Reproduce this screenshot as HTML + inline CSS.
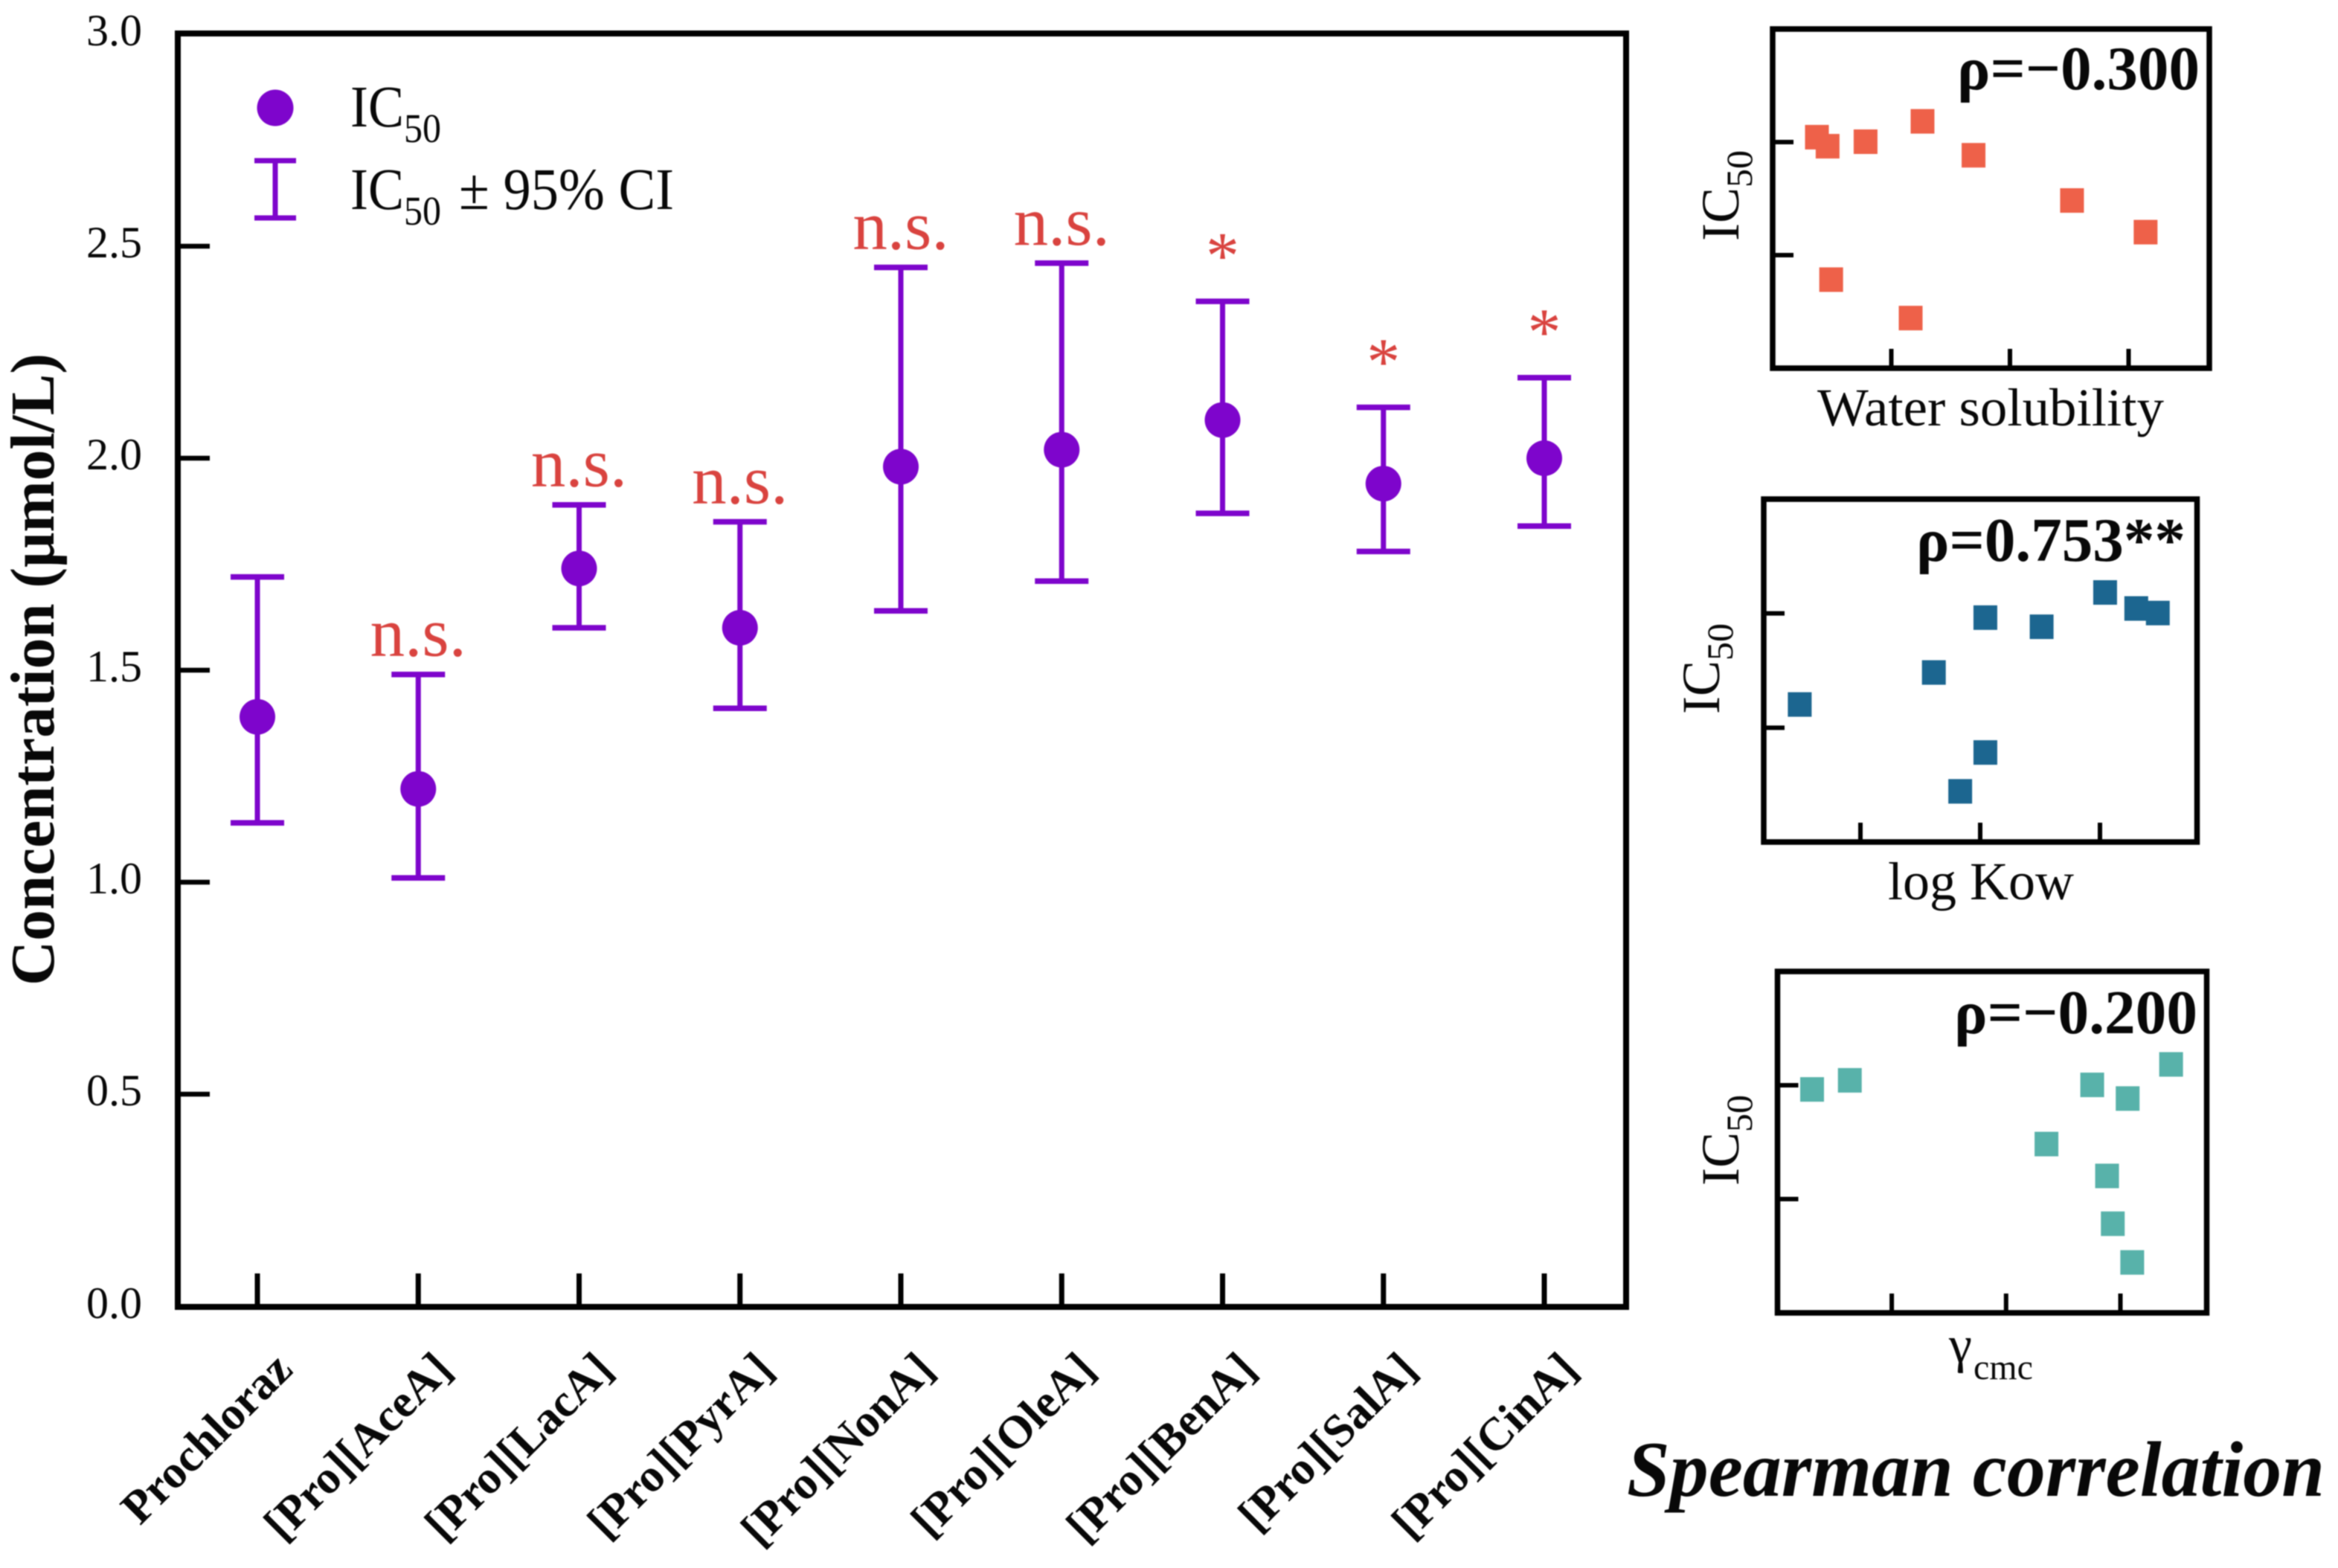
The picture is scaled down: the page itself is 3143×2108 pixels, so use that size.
<!DOCTYPE html>
<html lang="en">
<head>
<meta charset="utf-8">
<title>IC50 with 95% CI and Spearman correlations</title>
<style>
  html, body { margin: 0; padding: 0; background: #fff; }
  svg { display: block; filter: blur(0.9px); }
  text { font-family: "Liberation Serif", "Noto Serif CJK SC", serif; fill: #080808; }
</style>
</head>
<body>
<svg id="figure" xmlns="http://www.w3.org/2000/svg" width="3143" height="2108" viewBox="0 0 3143 2108">
  <rect x="0" y="0" width="3143" height="2108" fill="#fff"/>

  <text transform="translate(72,1325) rotate(-90)" font-size="84" font-weight="bold" textLength="850" lengthAdjust="spacingAndGlyphs">Concentration (μmol/L)</text>

  <g id="main-chart"></g>

  <g>
    <circle cx="370" cy="145" r="24.5" fill="#7e05cc"/>
    <text transform="translate(471,170) scale(1,1.1)" font-size="72">IC<tspan font-size="50" dy="19">50</tspan></text>
    <g stroke="#7e05cc" stroke-width="7" fill="none">
      <line x1="370" y1="216" x2="370" y2="293"/>
      <line x1="342" y1="216" x2="398" y2="216"/>
      <line x1="342" y1="293" x2="398" y2="293"/>
    </g>
    <text transform="translate(471,281) scale(1,1.1)" font-size="72">IC<tspan font-size="50" dy="19">50</tspan></text>
    <text transform="translate(617,281) scale(1,1.1)" font-size="72" textLength="289" lengthAdjust="spacingAndGlyphs">± 95% CI</text>
  </g>

  <g id="panel-water"></g>
  <g id="panel-kow"></g>
  <g id="panel-cmc"></g>

  <text x="2187" y="2011" font-size="106" font-weight="bold" font-style="italic" textLength="938" lengthAdjust="spacingAndGlyphs">Spearman correlation</text>
</svg>

<script>
// Main chart data
const categories = ["Prochloraz", "[Pro][AceA]", "[Pro][LacA]", "[Pro][PyrA]", "[Pro][NonA]", "[Pro][OleA]", "[Pro][BenA]", "[Pro][SalA]", "[Pro][CinA]"];
const ic50 = [1.39, 1.22, 1.74, 1.60, 1.98, 2.02, 2.09, 1.94, 2.00];
const ciUpper = [1.72, 1.49, 1.89, 1.85, 2.45, 2.46, 2.37, 2.12, 2.19];
const ciLower = [1.14, 1.01, 1.60, 1.41, 1.64, 1.71, 1.87, 1.78, 1.84];
const significance = ["", "n.s.", "n.s.", "n.s.", "n.s.", "n.s.", "*", "*", "*"];
const yTickValues = [0, 0.5, 1, 1.5, 2, 2.5, 3];
const yTickLabels = ["0.0", "0.5", "1.0", "1.5", "2.0", "2.5", "3.0"];

// Spearman panels: x in each panel's own tick units, y is IC50
const waterX = [0.37, 0.46, 0.78, 1.26, 1.69, 2.52, 3.14, 0.49, 1.16];
const waterY = [2.02, 1.98, 2.00, 2.09, 1.94, 1.74, 1.60, 1.39, 1.22];
const kowX = [0.49, 1.61, 2.04, 2.51, 3.04, 3.30, 3.48, 2.04, 1.83];
const kowY = [1.60, 1.74, 1.98, 1.94, 2.09, 2.02, 2.00, 1.39, 1.22];
const cmcX = [0.30, 0.63, 2.75, 3.06, 3.44, 2.35, 2.88, 2.93, 3.10];
const cmcY = [1.98, 2.02, 2.00, 1.94, 2.09, 1.74, 1.60, 1.39, 1.22];
const panelXTicks = [1, 2, 3];
const panelYTicks = [1.5, 2.0];

const SVGNS = "http://www.w3.org/2000/svg";
const PURPLE = "#7e05cc";
const RED = "#d9433f";

function make(parent, tag, name, attrs, content) {
  const el = document.createElementNS(SVGNS, tag);
  
  
  for (const k in attrs) el.setAttribute(k, attrs[k]);
  if (content !== undefined) el.textContent = content;
  parent.appendChild(el);
  return el;
}

// Main chart axes
const mainX = i => 346 + 216.25 * i;
const mainY = v => 1756 - 570 * v;

function drawMain() {
  const g = document.getElementById("main-chart");
  make(g, "rect", "plot-frame", { x: 239, y: 45, width: 1947, height: 1712, fill: "none", stroke: "#000", "stroke-width": 8 });

  yTickValues.forEach((v, i) => {
    if (v > 0 && v < 3) {
      make(g, "line", "y-tick-" + yTickLabels[i], { x1: 239, x2: 282, y1: mainY(v), y2: mainY(v), stroke: "#000", "stroke-width": 6.5 });
    }
    const labelY = v === 0 ? 1772 : mainY(v) + 15;
    make(g, "text", "y-tick-label-" + yTickLabels[i], { x: 191, y: labelY, "text-anchor": "end", "font-size": 60 }, yTickLabels[i]);
  });

  categories.forEach((name, i) => {
    const x = mainX(i);
    make(g, "line", "x-tick-" + i, { x1: x, x2: x, y1: 1712, y2: 1757, stroke: "#000", "stroke-width": 7 });
    make(g, "text", "x-tick-label-" + i, { transform: "translate(" + (x + (i === 0 ? 50 : 48)) + ",1844) rotate(-45)", "text-anchor": "end", "font-size": 62.5, "font-weight": "bold" }, name);

    const top = mainY(ciUpper[i]);
    const bottom = mainY(ciLower[i]);
    make(g, "line", "error-bar-" + i, { x1: x, x2: x, y1: top, y2: bottom, stroke: PURPLE, "stroke-width": 7 });
    make(g, "line", "error-cap-upper-" + i, { x1: x - 36, x2: x + 36, y1: top, y2: top, stroke: PURPLE, "stroke-width": 7.5 });
    make(g, "line", "error-cap-lower-" + i, { x1: x - 36, x2: x + 36, y1: bottom, y2: bottom, stroke: PURPLE, "stroke-width": 7.5 });
    make(g, "circle", "ic50-point-" + i, { cx: x, cy: mainY(ic50[i]), r: 24, fill: PURPLE });

    if (significance[i] === "n.s.") {
      const lab = make(g, "text", "significance-label-" + i, { x: x, y: top - 25, "text-anchor": "middle", "font-size": 93 }, significance[i]);
      lab.style.fill = RED;
    } else if (significance[i]) {
      const lab = make(g, "text", "significance-label-" + i, { x: x, y: top - 31, "text-anchor": "middle", "font-size": 90 }, significance[i]);
      lab.style.fill = RED;
    }
  });
}

function drawPanel(opts) {
  const g = document.getElementById(opts.id);
  const sx = v => opts.x0 + opts.unitX * v;
  const sy = v => opts.bottom - (v - 1) * (opts.bottom - opts.top) / 1.5;

  make(g, "rect", "panel-frame", { x: opts.left, y: opts.top, width: opts.right - opts.left, height: opts.bottom - opts.top, fill: "none", stroke: "#000", "stroke-width": 7.5 });

  panelYTicks.forEach(v => {
    make(g, "line", "panel-y-tick", { x1: opts.left, x2: opts.left + 28, y1: sy(v), y2: sy(v), stroke: "#000", "stroke-width": 6 });
  });
  panelXTicks.forEach(v => {
    make(g, "line", "panel-x-tick", { x1: sx(v), x2: sx(v), y1: opts.bottom - 26, y2: opts.bottom, stroke: "#000", "stroke-width": 6 });
  });

  opts.xs.forEach((v, i) => {
    make(g, "rect", "scatter-point", { x: sx(v) - 15.5, y: sy(opts.ys[i]) - 17, width: 32, height: 33, fill: opts.color });
  });

  make(g, "text", "rho-label", { x: opts.rhoX, y: opts.rhoY, "font-size": 84, "font-weight": "bold", textLength: opts.rhoW, lengthAdjust: "spacingAndGlyphs" }, opts.rho);

  const ylab = make(g, "text", "panel-y-title", { transform: "translate(" + opts.ylabX + "," + opts.ylabY + ") rotate(-90)", "font-size": 72 }, "IC");
  const sub = document.createElementNS(SVGNS, "tspan");
  
  
  sub.setAttribute("font-size", 50);
  sub.setAttribute("dy", 18);
  sub.textContent = "50";
  ylab.appendChild(sub);

  opts.xlabel(g);
}

drawMain();

drawPanel({
  id: "panel-water", left: 2383, right: 2970, top: 39, bottom: 495, x0: 2383, unitX: 159.5,
  xs: waterX, ys: waterY, color: "#ee6149",
  rho: "ρ=−0.300", rhoX: 2631, rhoY: 120, rhoW: 326, ylabX: 2337, ylabY: 324,
  xlabel: g => make(g, "text", "panel-x-title", { x: 2443, y: 572, "font-size": 72, textLength: 466, lengthAdjust: "spacingAndGlyphs" }, "Water solubility")
});

drawPanel({
  id: "panel-kow", left: 2371, right: 2953.5, top: 671, bottom: 1132, x0: 2340, unitX: 161,
  xs: kowX, ys: kowY, color: "#1c6690",
  rho: "ρ=0.753**", rhoX: 2576, rhoY: 754, rhoW: 362, ylabX: 2311, ylabY: 960,
  xlabel: g => make(g, "text", "panel-x-title", { x: 2538, y: 1209, "font-size": 72, textLength: 250, lengthAdjust: "spacingAndGlyphs" }, "log Kow")
});

drawPanel({
  id: "panel-cmc", left: 2389.5, right: 2966.5, top: 1306, bottom: 1765, x0: 2389.4, unitX: 153.7,
  xs: cmcX, ys: cmcY, color: "#58b2aa",
  rho: "ρ=−0.200", rhoX: 2627, rhoY: 1389, rhoW: 327, ylabX: 2337, ylabY: 1594,
  xlabel: g => {
    make(g, "text", "panel-x-title", { x: 2620, y: 1831, "font-size": 70 }, "γ");
    make(g, "text", "panel-x-title-subscript", { x: 2653, y: 1854, "font-size": 48 }, "cmc");
  }
});
</script>
</body>
</html>
